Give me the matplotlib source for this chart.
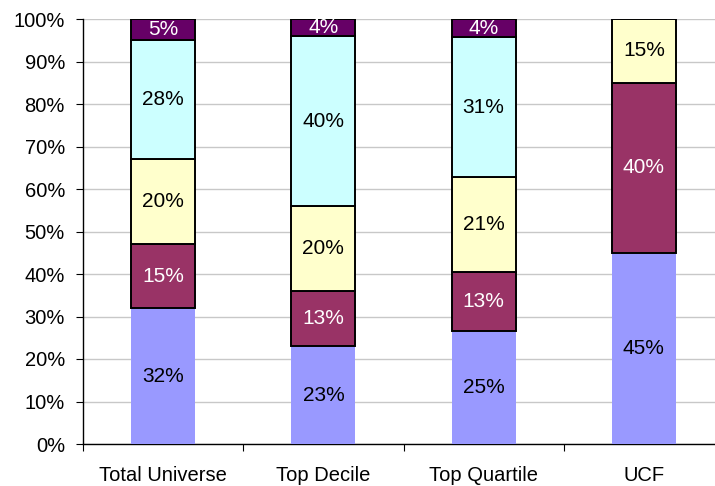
import matplotlib
matplotlib.use("Agg")
import matplotlib.pyplot as plt
import numpy as np

plt.rcParams['font.family'] = ['Liberation Sans', 'DejaVu Sans']

categories = ["Total Universe", "Top Decile", "Top Quartile", "UCF"]
s_blue = [32, 23, 25, 45]
s_maroon = [15, 13, 13, 40]
s_yellow = [20, 20, 21, 15]
s_cyan = [28, 40, 31, 0]
s_purple = [5, 4, 4, 0]
y_ticks = [0, 10, 20, 30, 40, 50, 60, 70, 80, 90, 100]

series = [s_blue, s_maroon, s_yellow, s_cyan, s_purple]
colors = ["#9999FF", "#993366", "#FFFFCC", "#CCFFFF", "#660066"]
edges = [None, "black", "black", "black", "black"]
text_colors = ["black", "white", "black", "black", "white"]

fig = plt.figure(figsize=(7.15, 4.86), dpi=100)
ax = fig.add_axes([83 / 715, 1 - 444 / 486, (724 - 83) / 715, (444 - 19) / 486])

data = np.array(series, dtype=float)
totals = data.sum(axis=0)
shares = data / totals * 100
x = np.arange(len(categories))
bottom = np.zeros(len(categories))

for vals, raw, col, ec, tc in zip(shares, data, colors, edges, text_colors):
    for i in range(len(categories)):
        if raw[i] <= 0:
            continue
        if ec is None:
            ax.bar(x[i], vals[i], 0.4, bottom=bottom[i], color=col, linewidth=0, zorder=3)
        else:
            ax.bar(x[i], vals[i], 0.4, bottom=bottom[i], color=col, edgecolor=ec,
                   linewidth=1.4, zorder=3)
        ax.text(x[i], bottom[i] + vals[i] / 2, f"{raw[i]:.0f}%", ha="center", va="center",
                color=tc, fontsize=15, zorder=4)
    bottom += vals

ax.set_xlim(-0.5, len(categories) - 0.5)
ax.set_ylim(0, 100)
ax.set_yticks(y_ticks)
ax.set_yticklabels([f"{t}%" for t in y_ticks], fontsize=14.5)
ax.yaxis.grid(True, color="#C8C8C8", linewidth=1.0, zorder=0)
ax.set_axisbelow(True)

ax.set_xticks(x)
ax.set_xticklabels(categories, fontsize=14.5)
ax.set_xticks(np.arange(len(categories) + 1) - 0.5, minor=True)
ax.tick_params(axis="x", which="major", length=0, pad=16)
ax.tick_params(axis="x", which="minor", length=5, width=0.8, direction="out")
ax.tick_params(axis="y", length=5, width=0.8, direction="out", pad=8)

for side in ("top", "right"):
    ax.spines[side].set_visible(False)
ax.spines["left"].set_linewidth(1.0)
ax.spines["bottom"].set_linewidth(1.0)

fig.savefig("out.png", dpi=100)
